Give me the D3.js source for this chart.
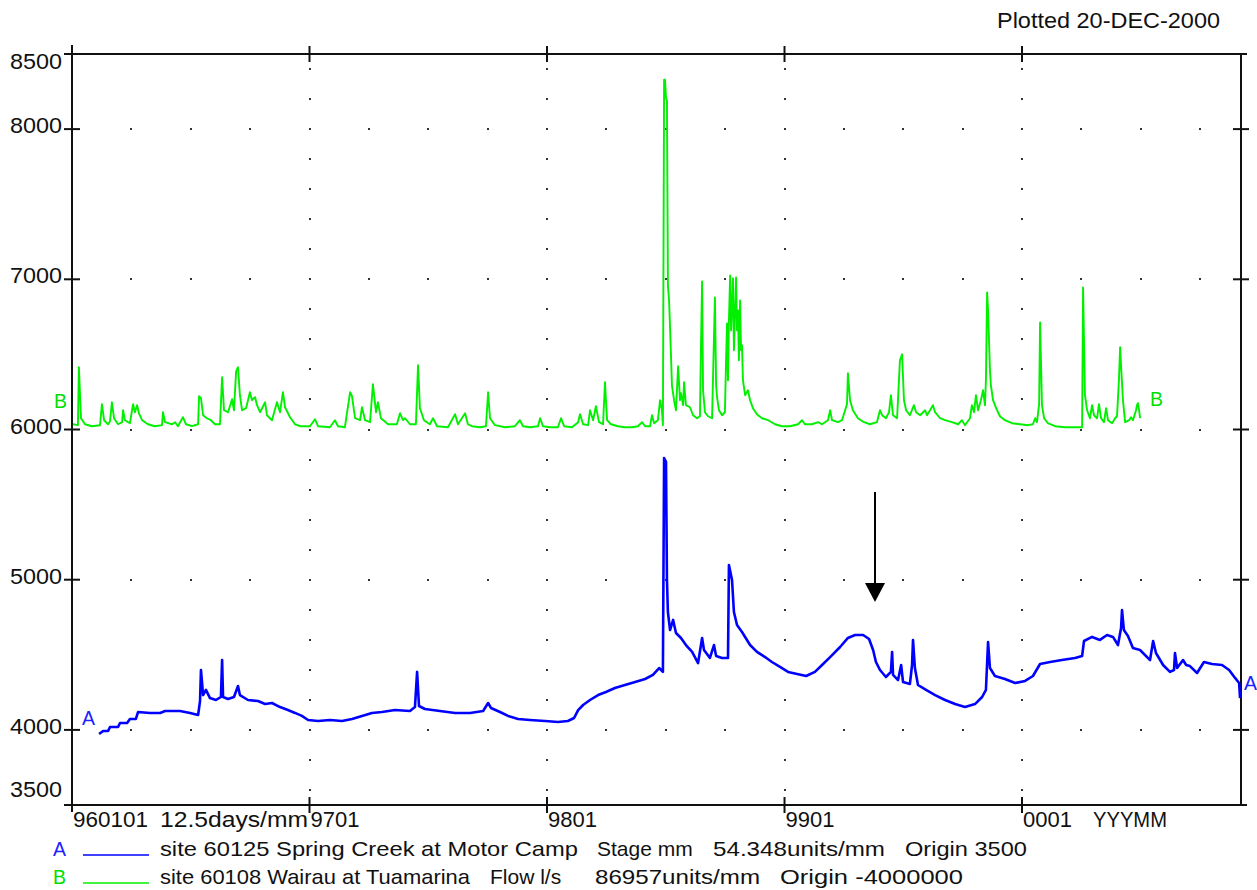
<!DOCTYPE html>
<html>
<head>
<meta charset="utf-8">
<script src="https://cdn.jsdelivr.net/npm/d3@7"></script>
<style>
  html, body { margin: 0; padding: 0; background: #fff; }
  svg { display: block; }
  text { font-family: "Liberation Sans", Arial, sans-serif; }
</style>
</head>
<body>
<svg id="chart" width="1257" height="890"></svg>
<script>
// Site 60125 Spring Creek at Motor Camp: stage in mm, time in decimal years
const springCreek = [
  [1996.114,3973],[1996.131,3993],[1996.152,3993],[1996.160,4019],[1996.194,4019],[1996.202,4046],
  [1996.232,4046],[1996.244,4073],[1996.269,4073],[1996.278,4119],[1996.328,4113],[1996.371,4113],
  [1996.392,4126],[1996.455,4126],[1996.497,4113],[1996.531,4099],[1996.539,4192],[1996.543,4399],
  [1996.552,4232],[1996.564,4266],[1996.581,4212],[1996.606,4199],[1996.627,4219],[1996.632,4465],
  [1996.636,4219],[1996.657,4206],[1996.682,4219],[1996.699,4292],[1996.707,4232],[1996.741,4199],
  [1996.783,4192],[1996.813,4172],[1996.842,4179],[1996.876,4152],[1996.909,4132],[1996.939,4113],
  [1996.968,4093],[1996.994,4066],[1997.036,4059],[1997.086,4066],[1997.137,4059],[1997.179,4073],
  [1997.221,4093],[1997.263,4113],[1997.305,4119],[1997.360,4132],[1997.423,4126],[1997.444,4152],
  [1997.453,4386],[1997.461,4159],[1997.486,4139],[1997.549,4126],[1997.613,4113],[1997.676,4113],
  [1997.731,4126],[1997.752,4179],[1997.764,4146],[1997.802,4119],[1997.836,4093],[1997.878,4073],
  [1997.928,4066],[1997.992,4059],[1998.046,4053],[1998.088,4059],[1998.114,4079],[1998.131,4132],
  [1998.152,4166],[1998.181,4199],[1998.215,4232],[1998.248,4252],[1998.286,4279],[1998.328,4299],
  [1998.371,4319],[1998.413,4339],[1998.446,4366],[1998.472,4412],[1998.488,4386],[1998.493,5810],
  [1998.501,5784],[1998.505,4998],[1998.509,4785],[1998.518,4665],[1998.531,4732],[1998.543,4645],
  [1998.564,4612],[1998.585,4565],[1998.611,4519],[1998.636,4445],[1998.653,4612],[1998.661,4532],
  [1998.686,4479],[1998.703,4565],[1998.712,4492],[1998.737,4479],[1998.762,4479],[1998.766,5098],
  [1998.779,4998],[1998.787,4785],[1998.800,4698],[1998.821,4652],[1998.855,4565],[1998.884,4519],
  [1998.918,4485],[1998.947,4452],[1998.981,4419],[1999.015,4386],[1999.053,4372],[1999.091,4359],
  [1999.128,4386],[1999.158,4432],[1999.192,4485],[1999.234,4552],[1999.267,4612],[1999.297,4632],
  [1999.331,4632],[1999.356,4605],[1999.373,4532],[1999.385,4452],[1999.402,4399],[1999.427,4352],
  [1999.448,4386],[1999.453,4519],[1999.457,4366],[1999.478,4332],[1999.491,4432],[1999.499,4319],
  [1999.528,4306],[1999.537,4432],[1999.541,4599],[1999.549,4412],[1999.562,4299],[1999.596,4266],
  [1999.634,4232],[1999.676,4199],[1999.718,4172],[1999.760,4152],[1999.802,4172],[1999.832,4219],
  [1999.848,4266],[1999.857,4585],[1999.865,4412],[1999.886,4359],[1999.928,4339],[1999.971,4312],
  [2000.013,4326],[2000.046,4359],[2000.076,4439],[2000.118,4452],[2000.168,4465],[2000.223,4479],
  [2000.253,4492],[2000.261,4592],[2000.295,4619],[2000.328,4599],[2000.358,4632],[2000.383,4619],
  [2000.404,4565],[2000.417,4678],[2000.421,4798],[2000.429,4665],[2000.446,4625],[2000.467,4545],
  [2000.497,4532],[2000.539,4465],[2000.552,4592],[2000.564,4512],[2000.594,4432],[2000.623,4386],
  [2000.640,4399],[2000.644,4512],[2000.653,4412],[2000.678,4465],[2000.691,4432],[2000.707,4425],
  [2000.737,4379],[2000.766,4452],[2000.800,4439],[2000.842,4432],[2000.872,4399],[2000.897,4346],
  [2000.914,4312],[2000.918,4212]
];

// Site 60108 Wairau at Tuamarina: flow in l/s, time in decimal years
const wairau = [
  [1996.004,56000],[1996.025,46000],[1996.029,663000],[1996.038,120000],[1996.055,56000],[1996.084,35000],
  [1996.118,46000],[1996.126,269000],[1996.135,99000],[1996.152,56000],[1996.160,88000],[1996.168,290000],
  [1996.177,120000],[1996.194,56000],[1996.211,78000],[1996.215,205000],[1996.223,99000],[1996.244,67000],
  [1996.257,269000],[1996.265,184000],[1996.274,259000],[1996.282,173000],[1996.295,99000],[1996.320,56000],
  [1996.349,35000],[1996.379,46000],[1996.383,184000],[1996.392,78000],[1996.421,56000],[1996.434,78000],
  [1996.446,35000],[1996.467,131000],[1996.480,56000],[1996.505,35000],[1996.531,56000],[1996.535,354000],
  [1996.543,333000],[1996.552,152000],[1996.568,120000],[1996.585,99000],[1996.602,56000],[1996.623,56000],
  [1996.632,556000],[1996.640,205000],[1996.657,184000],[1996.674,322000],[1996.682,205000],[1996.691,620000],
  [1996.699,663000],[1996.707,365000],[1996.716,205000],[1996.733,227000],[1996.749,397000],[1996.758,312000],
  [1996.766,333000],[1996.771,344000],[1996.779,259000],[1996.792,184000],[1996.813,290000],[1996.821,152000],
  [1996.842,99000],[1996.863,290000],[1996.876,184000],[1996.888,397000],[1996.897,237000],[1996.918,131000],
  [1996.939,56000],[1996.960,35000],[1997.002,35000],[1997.023,110000],[1997.036,35000],[1997.086,24000],
  [1997.107,99000],[1997.120,35000],[1997.149,24000],[1997.171,397000],[1997.179,354000],[1997.192,120000],
  [1997.213,99000],[1997.221,237000],[1997.234,99000],[1997.255,78000],[1997.267,482000],[1997.280,184000],
  [1997.288,290000],[1997.301,120000],[1997.331,56000],[1997.368,56000],[1997.381,173000],[1997.394,99000],
  [1997.402,120000],[1997.423,56000],[1997.448,56000],[1997.457,684000],[1997.465,227000],[1997.482,99000],
  [1997.507,56000],[1997.520,120000],[1997.537,35000],[1997.583,24000],[1997.613,163000],[1997.625,56000],
  [1997.655,173000],[1997.667,56000],[1997.684,35000],[1997.718,24000],[1997.743,35000],[1997.752,397000],
  [1997.760,120000],[1997.781,46000],[1997.823,24000],[1997.865,35000],[1997.886,99000],[1997.899,35000],
  [1997.928,24000],[1997.962,35000],[1997.971,120000],[1997.983,35000],[1998.013,24000],[1998.046,24000],
  [1998.059,120000],[1998.072,35000],[1998.105,24000],[1998.131,78000],[1998.139,163000],[1998.152,56000],
  [1998.173,46000],[1998.181,205000],[1998.194,99000],[1998.206,248000],[1998.219,78000],[1998.236,56000],
  [1998.244,503000],[1998.253,99000],[1998.269,56000],[1998.299,35000],[1998.328,24000],[1998.358,24000],
  [1998.383,35000],[1998.400,78000],[1998.413,35000],[1998.434,35000],[1998.442,152000],[1998.451,67000],
  [1998.467,99000],[1998.476,312000],[1998.484,205000],[1998.488,46000],[1998.493,3726000],[1998.497,3726000],
  [1998.501,3535000],[1998.505,3503000],[1998.509,1535000],[1998.514,1375000],[1998.518,1088000],[1998.522,790000],
  [1998.526,471000],[1998.535,312000],[1998.543,205000],[1998.552,673000],[1998.560,312000],[1998.564,386000],
  [1998.573,259000],[1998.577,503000],[1998.585,259000],[1998.602,237000],[1998.615,152000],[1998.632,120000],
  [1998.644,141000],[1998.648,844000],[1998.653,1578000],[1998.657,418000],[1998.665,184000],[1998.678,141000],
  [1998.695,120000],[1998.707,1407000],[1998.712,471000],[1998.716,344000],[1998.724,205000],[1998.737,152000],
  [1998.749,184000],[1998.754,737000],[1998.758,1131000],[1998.762,524000],[1998.766,1163000],[1998.771,1641000],
  [1998.775,1056000],[1998.783,1610000],[1998.787,844000],[1998.796,1620000],[1998.800,1056000],[1998.804,1269000],
  [1998.808,737000],[1998.813,1375000],[1998.817,844000],[1998.821,897000],[1998.825,524000],[1998.834,365000],
  [1998.846,418000],[1998.855,312000],[1998.867,227000],[1998.884,163000],[1998.905,120000],[1998.931,99000],
  [1998.960,56000],[1998.989,35000],[1999.023,35000],[1999.057,56000],[1999.074,99000],[1999.086,56000],
  [1999.116,56000],[1999.141,78000],[1999.158,56000],[1999.183,99000],[1999.192,205000],[1999.200,99000],
  [1999.225,78000],[1999.242,99000],[1999.263,269000],[1999.267,599000],[1999.276,312000],[1999.288,205000],
  [1999.309,120000],[1999.335,78000],[1999.360,56000],[1999.389,78000],[1999.402,205000],[1999.411,152000],
  [1999.427,120000],[1999.440,184000],[1999.448,365000],[1999.457,152000],[1999.474,120000],[1999.486,737000],
  [1999.495,801000],[1999.503,312000],[1999.512,205000],[1999.528,152000],[1999.545,259000],[1999.554,184000],
  [1999.571,152000],[1999.592,205000],[1999.600,152000],[1999.625,259000],[1999.634,184000],[1999.655,120000],
  [1999.676,99000],[1999.705,78000],[1999.731,56000],[1999.747,99000],[1999.760,46000],[1999.781,120000],
  [1999.789,259000],[1999.798,184000],[1999.806,365000],[1999.815,205000],[1999.827,312000],[1999.836,418000],
  [1999.844,259000],[1999.848,524000],[1999.853,1461000],[1999.857,1269000],[1999.861,950000],[1999.865,631000],
  [1999.869,471000],[1999.878,312000],[1999.891,227000],[1999.907,141000],[1999.928,99000],[1999.958,67000],
  [1999.992,56000],[2000.025,46000],[2000.046,56000],[2000.055,120000],[2000.063,78000],[2000.072,269000],
  [2000.076,1141000],[2000.084,259000],[2000.093,120000],[2000.109,67000],[2000.139,35000],[2000.181,24000],
  [2000.223,24000],[2000.253,24000],[2000.257,1514000],[2000.265,365000],[2000.274,205000],[2000.286,120000],
  [2000.295,259000],[2000.303,152000],[2000.316,120000],[2000.324,269000],[2000.333,120000],[2000.345,78000],
  [2000.354,227000],[2000.362,99000],[2000.379,67000],[2000.392,120000],[2000.400,141000],[2000.408,524000],
  [2000.413,876000],[2000.417,684000],[2000.425,312000],[2000.434,78000],[2000.451,99000],[2000.459,131000],
  [2000.467,99000],[2000.480,205000],[2000.484,259000],[2000.488,280000],[2000.493,205000],[2000.497,120000]
];

// Axis ticks and labels
const leftTickValues = [3500, 4000, 5000, 6000, 7000, 8000, 8500];
const gridValues = [4000, 5000, 6000, 7000, 8000];
const yearTicks = [1996, 1997, 1998, 1999, 2000];
const yearLabels = ["960101", "9701", "9801", "9901", "0001"];
const timeRange = [1996, 2000.922];

// Plotting scales of the two series (units per mm and origin)
const stageScale = { units: 54.348, origin: 3500 };
const flowScale = { units: 86957, origin: -4000000 };

const plottedDate = "Plotted 20-DEC-2000";
const timeNote = "12.5days/mm";
const timeFormat = "YYYMM";

// Annotation arrow: time and the stage values it spans
const arrowAt = { t: 1999.381, from: 5584, to: 4852 };

// ---------------------------------------------------------------
const svg = d3.select("#chart");
const x = d3.scaleLinear().domain(timeRange).range([72, 1241]);
const y = d3.scaleLinear().domain([3500, 8500]).range([805, 54]);

// Flow is drawn on the stage axis through the two plotting scales
const flowToAxis = f => stageScale.origin + (f - flowScale.origin) * stageScale.units / flowScale.units;

const FONT = 22;
function label(xp, yp, str, opts = {}) {
  const t = svg.append("text")
    .attr("x", xp).attr("y", yp)
    .attr("font-size", opts.size || FONT)
    .attr("fill", opts.color || "#111")
    .attr("text-anchor", opts.anchor || "start")
    .style("white-space", "pre")
    .text(str);
  if (opts.width) t.attr("textLength", opts.width).attr("lengthAdjust", "spacingAndGlyphs");
  return t;
}

// Dotted grid: rows at each 1000 mm, one dot per quarter; columns at each year, one dot per 200 mm
const quarters = d3.range(timeRange[0] * 4 + 1, Math.floor(timeRange[1] * 4) + 1).map(q => q / 4);
const dots = [];
gridValues.forEach(v => quarters.forEach(q => dots.push([q, v])));
yearTicks.slice(1).forEach(yr => d3.range(3600, 8500, 200).forEach(v => dots.push([yr, v])));
svg.append("g").selectAll("rect").data(dots).join("rect")
  .attr("x", d => Math.round(x(d[0])) - 1)
  .attr("y", d => Math.round(y(d[1])) - 1)
  .attr("width", 2).attr("height", 2)
  .attr("fill", "#333");

// Frame and axes
const frame = svg.append("g").attr("stroke", "#111").attr("stroke-width", 2).attr("fill", "none");
const x0 = x(timeRange[0]), x1 = x(timeRange[1]);
const yTop = y(8500), yBot = y(3500);
frame.append("line").attr("x1", x0).attr("x2", x0).attr("y1", yTop - 9).attr("y2", yBot + 7);
frame.append("line").attr("x1", x0 - 8).attr("x2", x1 + 6).attr("y1", yBot).attr("y2", yBot);
frame.append("line").attr("x1", x0 - 8).attr("x2", x1 + 6).attr("y1", yTop).attr("y2", yTop);
frame.append("line").attr("x1", x1).attr("x2", x1).attr("y1", yTop).attr("y2", yBot);

// Value ticks on both sides
gridValues.forEach(v => {
  frame.append("line").attr("x1", x0 - 8).attr("x2", x0 + 8).attr("y1", y(v)).attr("y2", y(v));
  frame.append("line").attr("x1", x1 - 8).attr("x2", x1 + 8).attr("y1", y(v)).attr("y2", y(v));
});
// Year ticks on top and bottom
yearTicks.slice(1).forEach(yr => {
  frame.append("line").attr("x1", x(yr)).attr("x2", x(yr)).attr("y1", yBot - 8).attr("y2", yBot + 8);
  frame.append("line").attr("x1", x(yr)).attr("x2", x(yr)).attr("y1", yTop - 8).attr("y2", yTop + 8);
});

// Left axis labels
leftTickValues.forEach(v => {
  const off = v === 8500 ? 15 : v === 3500 ? -8 : 4;
  label(62, y(v) + off, String(v), { anchor: "end", width: 52 });
});

// Time axis labels
yearTicks.forEach((yr, i) => {
  const w = yearLabels[i].length === 6 ? 75 : 49;
  label(x(yr) + 1, yBot + 22, yearLabels[i], { width: w });
});
label(160, yBot + 22, timeNote, { width: 148 });
label(1093, yBot + 22, timeFormat, { width: 74 });

label(997, 28, plottedDate, { width: 223 });

// Series
const lineStage = d3.line().x(d => x(d[0])).y(d => y(d[1]));
const lineFlow = d3.line().x(d => x(d[0])).y(d => y(flowToAxis(d[1])));

svg.append("path").datum(wairau)
  .attr("d", lineFlow).attr("fill", "none")
  .attr("stroke", "#00f000").attr("stroke-width", 1.9).attr("stroke-linejoin", "round");
svg.append("path").datum(springCreek)
  .attr("d", lineStage).attr("fill", "none")
  .attr("stroke", "#0000ff").attr("stroke-width", 2.6).attr("stroke-linejoin", "round");

// Series end labels
const first = arr => arr[0], last = arr => arr[arr.length - 1];
label(x(first(springCreek)[0]) - 17, y(first(springCreek)[1]) - 9, "A", { color: "#2020ff", size: 20, width: 13 });
label(x(last(springCreek)[0]) + 4, y(last(springCreek)[1]) - 8, "A", { color: "#2020ff", size: 20, width: 13 });
label(x(first(wairau)[0]) - 19, y(flowToAxis(first(wairau)[1])) - 16, "B", { color: "#00e000", size: 20, width: 13 });
label(x(last(wairau)[0]) + 10, y(flowToAxis(last(wairau)[1])) - 12, "B", { color: "#00e000", size: 20, width: 13 });

// Annotation arrow
const ax = x(arrowAt.t);
svg.append("line").attr("x1", ax).attr("x2", ax)
  .attr("y1", y(arrowAt.from)).attr("y2", y(arrowAt.to) - 15)
  .attr("stroke", "#000").attr("stroke-width", 2);
svg.append("path")
  .attr("d", `M${ax - 10},${y(arrowAt.to) - 19} L${ax + 10},${y(arrowAt.to) - 19} L${ax},${y(arrowAt.to)} Z`)
  .attr("fill", "#000");

// Legend
const legendRows = [
  { key: "A", color: "#2020ff", stroke: "#0000ff", base: 856,
    parts: [["site 60125 Spring Creek at Motor Camp", 160, 418], ["Stage mm", 597, null],
            [`${stageScale.units}units/mm`, 713, 172], [`Origin ${stageScale.origin}`, 905, 122]] },
  { key: "B", color: "#00e000", stroke: "#00f000", base: 884,
    parts: [["site 60108 Wairau at Tuamarina", 160, 310], ["Flow l/s", 490, null],
            [`${flowScale.units}units/mm`, 595, 165], [`Origin ${flowScale.origin}`, 780, 183]] }
];
legendRows.forEach(r => {
  label(53, r.base, r.key, { color: r.color, size: 20, width: 13 });
  svg.append("line").attr("x1", 83).attr("x2", 149).attr("y1", r.base - 1).attr("y2", r.base - 1)
    .attr("stroke", r.stroke).attr("stroke-width", 1.5);
  r.parts.forEach(p => label(p[1], r.base, p[0], { size: 21, width: p[2] || undefined }));
});
</script>
</body>
</html>
